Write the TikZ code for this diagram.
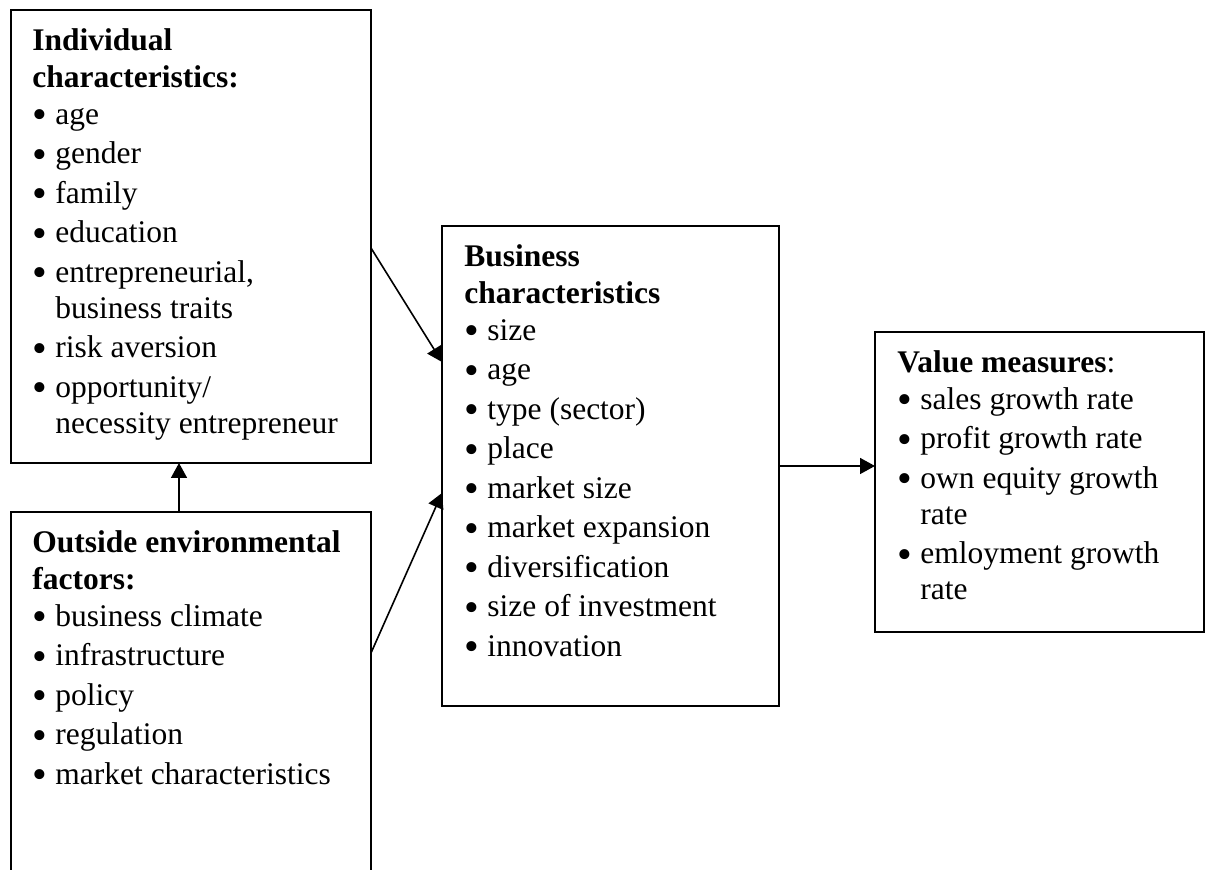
\documentclass[tikz,border=0pt]{standalone}
\usepackage{fontspec}
\setmainfont{Liberation Serif}
\usetikzlibrary{arrows.meta}

\tikzset{
  frame/.style={draw, line width=0.8pt, inner sep=0pt, outer sep=0pt, anchor=north west},
  lines/.style={anchor=north west, inner sep=0pt, align=left, font=\fontsize{15.75}{18}\selectfont},
  link/.style={-{Triangle[length=7.5pt,width=8pt]}, line width=0.8pt},
}
% bullet and hanging indent of the list lines
\newcommand{\bul}{\makebox[11.5pt][l]{\raisebox{-2.1pt}{\fontsize{21}{18}\selectfont\textbullet}}}
\newcommand{\cont}{\hspace*{11.5pt}}

\begin{document}
\begin{tikzpicture}[x=0.5pt,y=-0.5pt]
  \useasboundingbox (0,0) rectangle (1205,870);

  % the four boxes
  \node[frame, minimum width=180pt, minimum height=226.5pt] (indiv) at (11,10) {};
  \node[frame, minimum width=180pt, minimum height=181pt] (envir) at (11,512) {};
  \node[frame, minimum width=168.5pt, minimum height=240pt] (busin) at (442,226) {};
  \node[frame, minimum width=164.5pt, minimum height=150pt] (value) at (875,332) {};

  % their lists
  \node[lines] (indiv-txt) at (32,24.8) {\strut\textbf{Individual}\\[0.5pt]
    \textbf{characteristics:}\\[0.5pt]
    \bul age\\[1.75pt]
    \bul gender\\[1.75pt]
    \bul family\\[1.75pt]
    \bul education\\[1.75pt]
    \bul entrepreneurial,\\
    \cont business traits\\[1.75pt]
    \bul risk aversion\\[1.75pt]
    \bul opportunity/\\
    \cont necessity entrepreneur};

  \node[lines] (envir-txt) at (32,526.8) {\strut\textbf{Outside environmental}\\[0.5pt]
    \textbf{factors:}\\[0.5pt]
    \bul business climate\\[1.75pt]
    \bul infrastructure\\[1.75pt]
    \bul policy\\[1.75pt]
    \bul regulation\\[1.75pt]
    \bul market characteristics};

  \node[lines] (busin-txt) at (464,240.8) {\strut\textbf{Business}\\[0.5pt]
    \textbf{characteristics}\\[0.5pt]
    \bul size\\[1.75pt]
    \bul age\\[1.75pt]
    \bul type (sector)\\[1.75pt]
    \bul place\\[1.75pt]
    \bul market size\\[1.75pt]
    \bul market expansion\\[1.75pt]
    \bul diversification\\[1.75pt]
    \bul size of investment\\[1.75pt]
    \bul innovation};

  \node[lines] (value-txt) at (897,346.8) {\strut\textbf{Value measures}:\\[0.5pt]
    \bul sales growth rate\\[1.75pt]
    \bul profit growth rate\\[1.75pt]
    \bul own equity growth\\
    \cont rate\\[1.75pt]
    \bul emloyment growth\\
    \cont rate};

  % arrows
  \draw[link] ([yshift=-119pt]indiv.north east) -- ([yshift=-68pt]busin.north west);
  \draw[link] ([yshift=-70.5pt]envir.north east) -- ([yshift=-133.5pt]busin.north west);
  \draw[link] ([xshift=84pt]envir.north west) -- ([xshift=84pt]indiv.south west);
  \draw[link] ([yshift=-120pt]busin.north east) -- ([yshift=-67pt]value.north west);
\end{tikzpicture}
\end{document}
